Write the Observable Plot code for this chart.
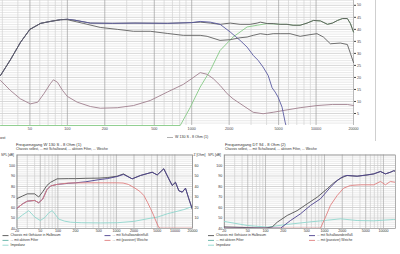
<!DOCTYPE html>
<html><head><meta charset="utf-8">
<script src="https://cdn.jsdelivr.net/npm/d3@7"></script>
<script src="https://cdn.jsdelivr.net/npm/@observablehq/plot@0.6"></script>
<style>
html,body{margin:0;padding:0;background:#fff;}
#root{position:relative;width:400px;height:254px;overflow:hidden;}
#root svg{position:absolute;overflow:visible;}
</style></head><body><div id="root"></div>
<script>
const FONT = '"Liberation Sans", Arial, sans-serif';

// ---------- Top chart (simulation) ----------
const topXTicks = [50, 100, 200, 500, 1000, 2000, 5000, 10000, 20000];
const topYTicks = [5, 10, 15, 20, 25, 30, 35, 40, 45, 50];

const topSumFreq = [29, 35, 42, 50, 61, 73, 88, 100, 115, 153, 230, 350, 640, 1000, 1170, 1410, 1690, 2040, 2450, 2950, 3360, 3560, 4050, 4520, 5140, 5840, 6540, 7440, 8460, 9530, 10850, 12350, 13540, 14880, 16340, 17850, 18890, 20000];
const topSumDb   = [20.8, 27.5, 34.6, 40, 42.5, 43.3, 44, 44.2, 43.8, 42.6, 42.5, 42.6, 42.5, 42.8, 43, 42.6, 42.1, 42.6, 42.1, 42.1, 42.6, 43, 42.4, 42.4, 42.1, 42.1, 41.7, 41.7, 42.6, 43.7, 43.5, 42.1, 42.6, 43.7, 44.5, 44.5, 42.4, 38.9];

const topLowFreq = [29, 35, 42, 50, 61, 73, 88, 100, 134, 184, 252, 340, 464, 636, 856, 1170, 1330, 1690, 2040, 2450, 2790, 3120, 3560, 4050, 4520, 5140, 6180, 7440, 8950, 10180, 11460, 13030, 15680, 17850, 18890, 20000];
const topLowDb   = [20.8, 27.5, 34.6, 40, 42.5, 43.3, 44, 44, 42.5, 40.8, 40, 39.2, 39.2, 38.3, 37.5, 37.5, 37.1, 35.4, 35.7, 36.5, 36.8, 37.5, 38.2, 37.8, 38.2, 38.2, 38.2, 37.1, 37.8, 38.2, 36.8, 34, 34.3, 33.7, 30, 26.2];

const topWooFreq = [29, 35, 42, 50, 61, 73, 88, 100, 115, 153, 230, 350, 640, 1000, 1170, 1410, 1690, 2040, 2240, 2450, 2790, 3120, 3420, 3750, 4120, 4430, 4690, 4950, 5330, 5640, 5860];
const topWooDb   = [20.8, 27.5, 34.6, 40, 42.5, 43.3, 44, 44.2, 43.8, 42.6, 42.5, 42.6, 42.5, 42.8, 43.3, 43, 42.1, 38.9, 37.1, 35.4, 32.6, 29.2, 27.1, 24.3, 20.8, 15.7, 13.9, 11.8, 7.6, 1.4, -2];

const topTwFreq = [29, 808, 972, 1170, 1410, 1690, 2150, 2790, 3360, 4050, 5140, 5840, 6540, 7440, 8460, 9530, 10850, 12350, 13540, 14880, 16340, 17850, 18890, 20000];
const topTwDb   = [0, 0, 7.5, 16, 22.9, 31.2, 36.8, 41, 41.7, 42.4, 42.1, 42.1, 41.7, 41.7, 42.6, 43.7, 43.5, 42.1, 42.6, 43.7, 44.5, 44.5, 42.4, 38.9];

const topImpFreq = [29, 34.8, 41.9, 50.4, 57.8, 64.7, 73, 77.2, 83.2, 91.5, 100, 120, 153, 184, 252, 340, 464, 636, 856, 1000, 1170, 1330, 1490, 1690, 1930, 2150, 2590, 3120, 3750, 4520, 5840, 7440, 10180, 13540, 17850, 20000];
const topImpVal  = [18.75, 14.6, 11.1, 9, 9.7, 13.2, 17.4, 19, 18, 14.6, 12.1, 9.7, 7.9, 7.2, 7.4, 8.3, 10.4, 13.9, 17.1, 19.5, 22, 21.3, 19.5, 16.7, 13.2, 11.1, 8.3, 5.5, 4.9, 5.5, 6.5, 7.4, 8.3, 8.75, 8.75, 8.3];

// ---------- Bottom-left chart: W 130 S ----------
const wXTicks = [20, 50, 100, 200, 500, 1000, 2000, 5000, 10000, 20000];
const splTicks = [40, 50, 60, 70, 80, 90, 100];
const zTicks = [10, 20, 30, 40, 50, 60];

const wFreq    = [20, 25, 30, 40, 47, 55, 65, 75, 97, 150, 200, 300, 500, 700, 1030, 1320, 1860, 2580, 4090, 4990, 6460, 7870, 9000, 10240, 11670, 13340, 15190, 17300, 19770, 20000];
const wChassis = [68.5, 71, 73, 73, 70, 75, 81, 84, 87.3, 87.5, 87.5, 87.8, 88, 88.5, 89.8, 92, 87.3, 90.5, 93.6, 91, 96.9, 87.3, 81, 84, 76, 74.6, 78.4, 68.3, 58.7, 58];
const wBaffle  = [59.3, 63.5, 66, 66.7, 64.5, 68, 77, 80.5, 82, 83, 83.5, 84.5, 86.5, 87.5, 89.5, 91.5, 87.3, 90.5, 93.6, 91, 96.9, 87.3, 81, 84, 76, 74.6, 78.4, 68.3, 58.7, 58];

const wPassFreq = [20, 25, 30, 40, 47, 55, 65, 75, 97, 150, 300, 600, 1000, 1300, 1600, 2000, 2500, 2950, 3400, 3830, 4300, 4660, 5300, 5700, 20000];
const wPassDb   = [59.3, 63.5, 66, 66.7, 64.5, 68, 77, 80.5, 82, 83.3, 83.5, 83.5, 83.5, 83.3, 82, 79, 75.5, 71.4, 65, 59, 53, 48, 41, 40.3, 40.3];

const wImpFreq = [20, 25, 31.8, 40, 50, 60, 70, 80, 90, 103, 130, 165, 250, 535, 1030, 1990, 3830, 5000, 7400, 14200, 20000];
const wImpZ    = [8.8, 13, 17, 11, 7.6, 10.5, 15, 17, 13.5, 9, 7, 6, 5.5, 5.3, 5.5, 6.8, 9.8, 10.8, 14, 18, 21];

// ---------- Bottom-right chart: DT 94 ----------
const dXTicks = [20, 50, 100, 200, 500, 1000, 2000, 5000, 10000];

const dChFreq = [20, 40, 70, 100, 130, 158, 233, 344, 509, 752, 1110, 1440, 1870, 2420, 3580, 5280, 6850, 8890, 10800, 13100, 14900, 16000];
const dChDb   = [41.5, 41, 40.6, 40.4, 41.5, 46, 52.4, 57, 63.5, 69.8, 77.8, 83.5, 87.9, 90.5, 89.8, 91, 92, 94.3, 92, 93.6, 95, 94.5];

const dBaFreq = [20, 100, 180, 265, 392, 580, 855, 1260, 1640, 2110, 2420, 3580, 5280, 6850, 8890, 10800, 13100, 14900, 16000];
const dBaDb   = [40.3, 40.3, 40.3, 47.6, 54, 62, 68.3, 79.3, 85.7, 89.8, 90.5, 89.8, 91, 92, 94.3, 92, 93.6, 95, 94.5];

const dPaFreq = [20, 855, 1040, 1260, 1640, 2110, 2760, 4070, 6850, 8890, 10800, 13100, 15900, 16000];
const dPaDb   = [40.3, 40.3, 50.8, 62, 71.4, 78.4, 81, 81.6, 81.6, 84.8, 81.6, 84.8, 84, 84];

const dImpFreq = [20, 49, 107, 204, 509, 1110, 1870, 3580, 6850, 14900, 16000];
const dImpZ    = [6.7, 2.9, 1.3, 3.5, 6, 7.9, 9.2, 7.6, 7.3, 8.6, 8.6];

// ---------- helpers ----------
const pts = (fs, vs, off = 0) => fs.map((f, i) => ({f, v: vs[i] + off}));
function logGrid(lo, hi) {
  const out = [];
  for (let p = 10; p <= 1e4; p *= 10)
    for (let m = 1; m < 10; m++) { const v = m * p; if (v >= lo && v <= hi) out.push(v); }
  return out;
}
const xLabels = (ticks, dy, fontSize) => Plot.text(ticks, {
  x: d => d, text: d => String(d), frameAnchor: "bottom", lineAnchor: "top", dy, fontSize, fill: "currentColor"
});
const root = document.getElementById("root");

// ---------- Top plot ----------
const topSvg = Plot.plot({
  width: 375, height: 140,
  marginTop: 0, marginRight: 22, marginBottom: 15, marginLeft: 0,
  x: {type: "log", domain: [29, 20000], label: null, axis: null},
  y: {domain: [0, 52], label: null},
  style: {fontFamily: FONT, fontSize: "3.7px", color: "#444", background: "transparent"},
  marks: [
    Plot.ruleY(d3.range(1, 53).filter(d => d % 5), {stroke: "#e0e0e0", strokeWidth: 0.7}),
    Plot.ruleY(d3.range(5, 53, 5), {stroke: "#c6c6c6", strokeWidth: 0.7}),
    Plot.ruleX(logGrid(30, 20000).filter(d => !topXTicks.includes(d)), {stroke: "#d2d2d2", strokeWidth: 0.7}),
    Plot.ruleX(topXTicks, {stroke: "#9c9c9c", strokeWidth: 0.7}),
    xLabels(topXTicks, 1.6, 3.7),
    Plot.axisY(topYTicks, {anchor: "right", tickSize: 2, tickPadding: 1.5, fontSize: 3.7}),
    Plot.line(pts(topTwFreq, topTwDb), {x: "f", y: "v", stroke: "#86c986", strokeWidth: 0.9}),
    Plot.line(pts(topImpFreq, topImpVal), {x: "f", y: "v", stroke: "#a0808e", strokeWidth: 0.9}),
    Plot.line(pts(topSumFreq, topSumDb), {x: "f", y: "v", stroke: "#5a5a5a", strokeWidth: 0.9}),
    Plot.line(pts(topWooFreq, topWooDb), {x: "f", y: "v", stroke: "#5a5aa0", strokeWidth: 0.9, clip: true}),
    Plot.line(pts(topLowFreq, topLowDb), {x: "f", y: "v", stroke: "#606060", strokeWidth: 0.9})
  ]
});
topSvg.style.left = "0px"; topSvg.style.top = "0px";
root.appendChild(topSvg);

// ---------- bottom chart builder ----------
function bottomChart({xDomain, xTicks, marginLeft, marginRight, width, rightAxis, lines}) {
  return Plot.plot({
    width, height: 100,
    marginTop: 14.5, marginBottom: 12, marginLeft, marginRight,
    x: {type: "log", domain: xDomain, label: null, axis: null},
    y: {domain: [40, 110], label: null},
    style: {fontFamily: FONT, fontSize: "3.6px", color: "#333", background: "transparent"},
    marks: [
      Plot.ruleY(d3.range(42, 110, 2).filter(d => d % 10), {stroke: "#e1e1e1", strokeWidth: 0.7}),
      Plot.ruleY(d3.range(50, 111, 10), {stroke: "#c2c2c2", strokeWidth: 0.7}),
      Plot.ruleX(logGrid(xDomain[0], xDomain[1]).filter(d => !xTicks.includes(d)), {stroke: "#cfcfcf", strokeWidth: 0.7}),
      Plot.ruleX(xTicks, {stroke: "#ababab", strokeWidth: 0.7}),
      Plot.frame({stroke: "#8c8c8c", strokeWidth: 0.7}),
      xLabels(xTicks, 1.2, 3.6),
      Plot.axisY(splTicks, {anchor: "left", tickSize: 0, tickPadding: 2, fontSize: 3.6}),
      ...(rightAxis ? [Plot.axisY(zTicks.map(z => z + 40), {anchor: "right", tickSize: 0, tickPadding: 2, fontSize: 3.6, tickFormat: d => String(d - 40)})] : []),
      ...lines.map(([data, color]) => Plot.line(data, {x: "f", y: "v", stroke: color, strokeWidth: 0.9, clip: true}))
    ]
  });
}

const C_CH = "#505050", C_BA = "#4d4290", C_PA = "#e07f7f", C_AF = "#5fb0a4", C_IMP = "#8ed6cd";

const wSvg = bottomChart({
  xDomain: [20, 20000], xTicks: wXTicks, marginLeft: 16.5, marginRight: 23, width: 215, rightAxis: true,
  lines: [
    [pts(wImpFreq, wImpZ, 40), C_IMP],
    [pts(wFreq, wChassis), C_CH],
    [pts(wFreq, wBaffle), C_BA],
    [pts(wPassFreq, wPassDb), C_PA]
  ]
});
wSvg.style.left = "0px"; wSvg.style.top = "140px";
root.appendChild(wSvg);

const dSvg = bottomChart({
  xDomain: [20, 16000], xTicks: dXTicks, marginLeft: 23.8, marginRight: 5, width: 200, rightAxis: false,
  lines: [
    [pts(dImpFreq, dImpZ, 40), C_IMP],
    [pts(dChFreq, dChDb), C_CH],
    [pts(dPaFreq, dPaDb), C_PA],
    [pts(dBaFreq, dBaDb), C_BA]
  ]
});
dSvg.style.left = "200px"; dSvg.style.top = "140px";
root.appendChild(dSvg);

// ---------- overlay texts / legends ----------
const ov = d3.create("svg").attr("width", 400).attr("height", 254)
  .style("left", "0px").style("top", "0px")
  .attr("font-family", FONT).attr("fill", "#333");

function txt(x, y, s, size, anchor = "start") {
  ov.append("text").attr("x", x).attr("y", y).attr("font-size", size)
    .attr("dominant-baseline", "middle").attr("text-anchor", anchor).text(s);
}
function key(x, y, color, s, size = 3.3) {
  ov.append("line").attr("x1", x).attr("x2", x + 6).attr("y1", y).attr("y2", y)
    .attr("stroke", color).attr("stroke-width", 0.9);
  txt(x + 8, y, s, size);
}

ov.append("line").attr("x1", 375.5).attr("x2", 375.5).attr("y1", 0).attr("y2", 141)
  .attr("stroke", "#cfcfcf").attr("stroke-width", 1);

txt(0, 137.5, "ost", 4);
key(167, 137.5, "#a8a8a8", "W 130 S - 8 Ohm (1)", 3.6);

const subtitle = "Chassis selbst, ... mit Schallwand, ... aktiven Filter, ... Weiche";
txt(16, 144.8, "Frequenzgang W 130 S - 8 Ohm (1)", 4.1);
txt(16, 149.6, subtitle, 3.4);
txt(1, 155.5, "SPL [dB]", 3.3);
txt(193.5, 155.5, "Z [Ohm]", 3.3);

txt(225, 144.8, "Frequenzgang DT 94 - 8 Ohm (2)", 4.1);
txt(225, 149.6, subtitle, 3.4);
txt(208, 155.5, "SPL [dB]", 3.3);

const rows = [235.6, 240.4, 245.2];
[[2.5, 104.5], [208, 309]].forEach(([c1, c2]) => {
  key(c1, rows[0], C_CH, "Chassis mit Gehäuse in Halbraum");
  key(c1, rows[1], C_AF, "... mit aktiven Filter");
  key(c1, rows[2], C_IMP, "Impedanz");
  key(c2, rows[0], C_BA, "... mit Schallwandeinfluß");
  key(c2, rows[1], C_PA, "... mit (passiver) Weiche");
});

root.appendChild(ov.node());
</script></body></html>
